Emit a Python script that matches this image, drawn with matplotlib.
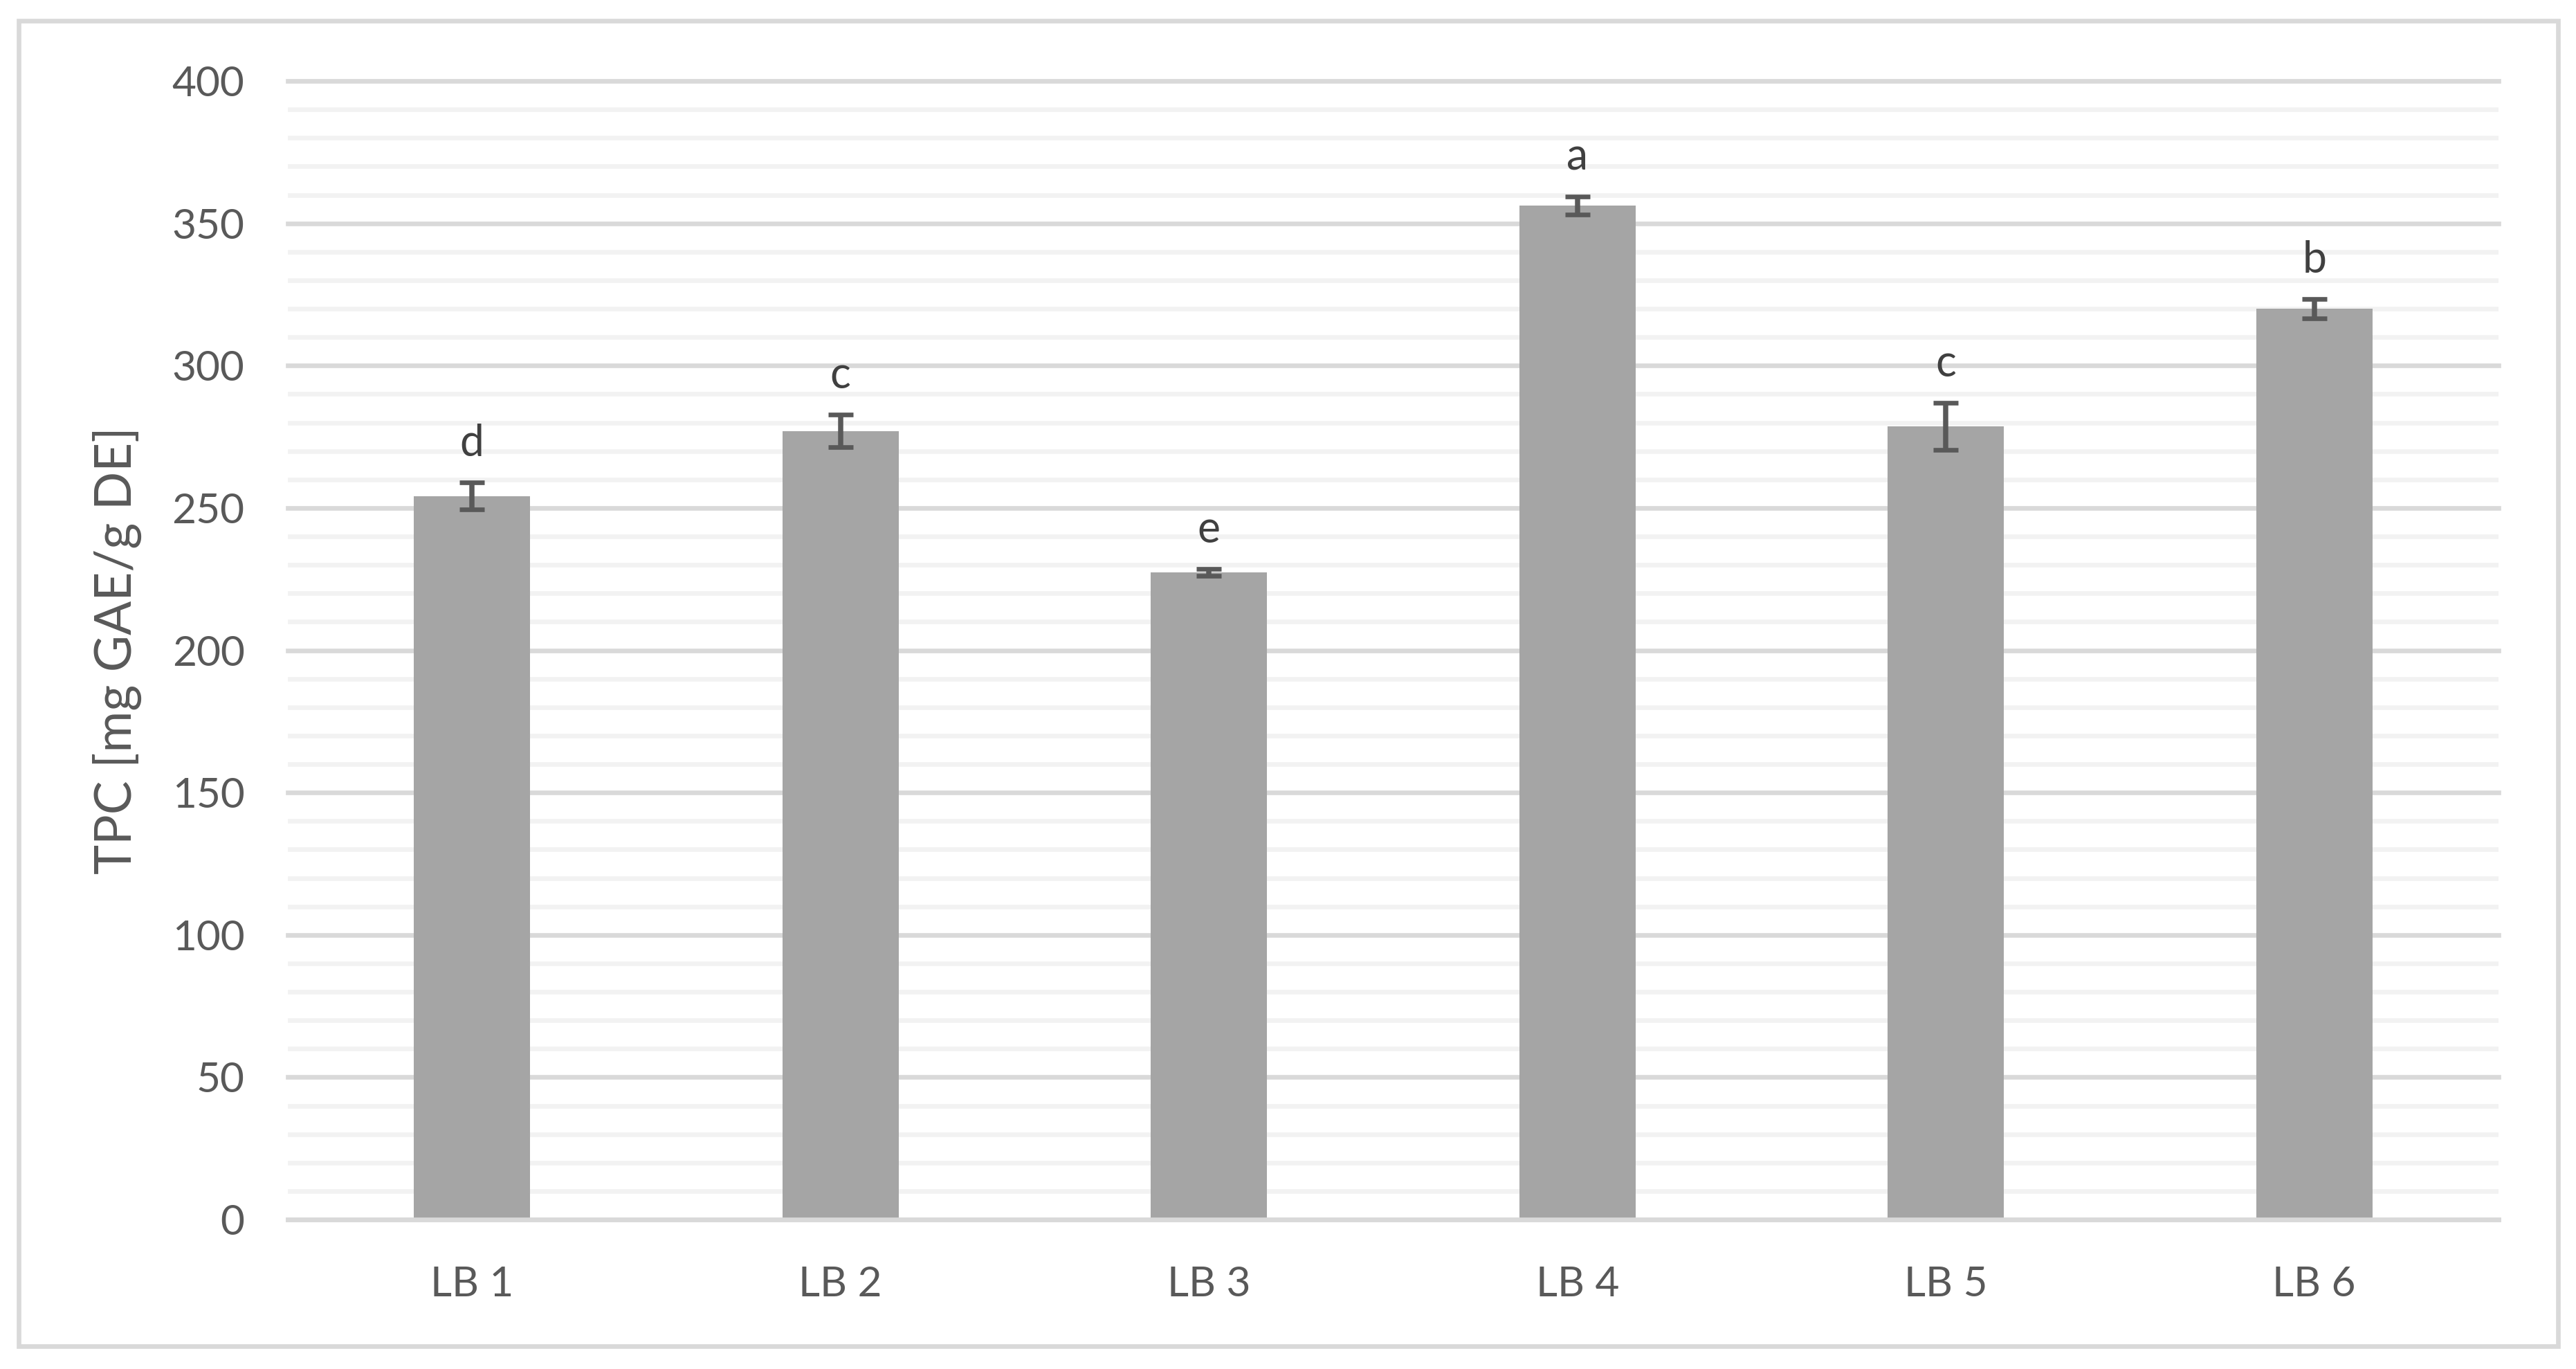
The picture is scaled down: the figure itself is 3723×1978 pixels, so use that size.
import numpy as np
import matplotlib.pyplot as plt
from matplotlib.patches import Rectangle

categories = ["LB 1", "LB 2", "LB 3", "LB 4", "LB 5", "LB 6"]
tpc = [254.2, 277.0, 227.4, 356.2, 278.7, 320.0]
tpc_err = [4.7, 5.7, 1.2, 3.2, 8.2, 3.4]
letters = ["d", "c", "e", "a", "c", "b"]

plt.rcParams['font.family'] = ['Lato', 'DejaVu Sans']

W, H = 3723, 1978
fig = plt.figure(figsize=(W / 300, H / 300), dpi=300)
ax = fig.add_axes([416 / W, 1 - 1762 / H, (3611 - 416) / W, (1762 - 117) / H])

x = np.arange(len(categories))
ax.bar(x, tpc, width=0.316, color="#A5A5A5", zorder=2)
ax.errorbar(x, tpc, yerr=tpc_err, fmt="none", ecolor="#595959",
            elinewidth=1.8, capsize=4.3, capthick=1.6, zorder=3)

for xi, v, e, lab in zip(x, tpc, tpc_err, letters):
    ax.annotate(lab, (xi, v + e), xytext=(0, 6.5), textcoords="offset points",
                ha="center", va="bottom", fontsize=15, color="#404040")

ax.set_xlim(-0.5, len(categories) - 0.5)
ax.set_ylim(0, 400)
ax.set_yticks(np.arange(0, 401, 50))
ax.set_yticks(np.arange(0, 401, 10), minor=True)
ax.set_xticks(x)
ax.set_xticklabels(categories)

ax.tick_params(axis="both", length=0, colors="#595959", labelsize=14.5)
ax.tick_params(axis="y", which="minor", length=0)
ax.tick_params(axis="x", pad=16)
ax.tick_params(axis="y", pad=15)

ax.set_axisbelow(True)
ax.grid(axis="y", which="major", color="#D9D9D9", linewidth=1.6)
ax.grid(axis="y", which="minor", color="#F2F2F2", linewidth=1.6)
for line in ax.get_ygridlines():
    line.set_clip_on(False)

for s in ["top", "right", "left"]:
    ax.spines[s].set_visible(False)
ax.spines["bottom"].set_color("#D9D9D9")
ax.spines["bottom"].set_linewidth(1.6)

ax.set_ylabel("TPC [mg GAE/g DE]", fontsize=17.5, color="#595959")
ax.yaxis.set_label_coords(-0.066, 0.5)

# Rahmen um das ganze Diagramm
fig.patches.append(Rectangle((26.5 / W, 1 - 1944.5 / H), (3696.5 - 26.5) / W,
                             (1944.5 - 30) / H, transform=fig.transFigure,
                             fill=False, edgecolor="#D9D9D9", linewidth=1.6))

fig.savefig("out.png", dpi=300, facecolor="white")
